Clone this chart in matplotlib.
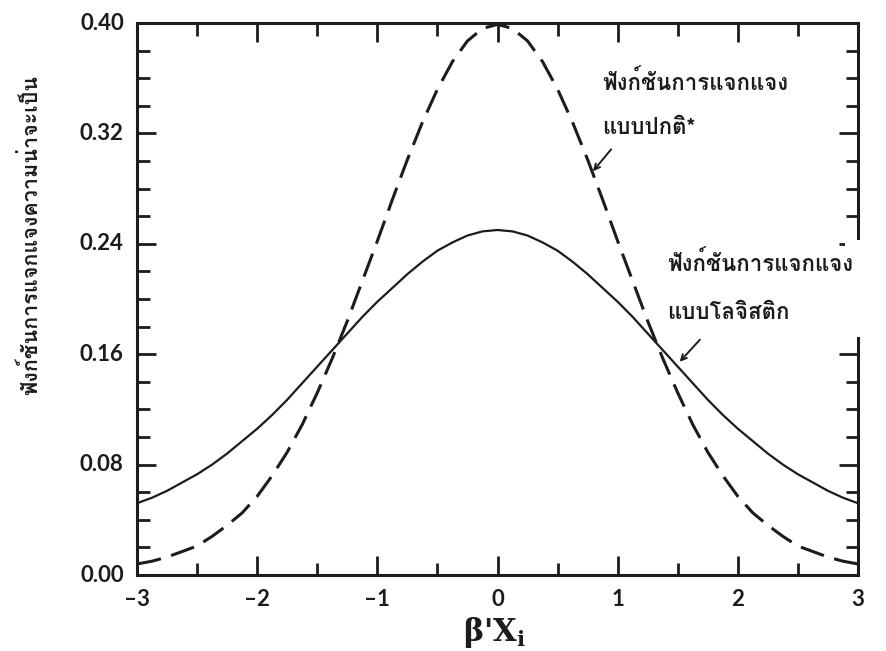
import matplotlib
matplotlib.use("Agg")
import matplotlib.pyplot as plt
from matplotlib import font_manager
from matplotlib.ft2font import FT2Font
from matplotlib.patches import Rectangle
from matplotlib.ticker import MultipleLocator

# values (x step 0.125)
x = [-3.0, -2.875, -2.75, -2.625, -2.5, -2.375, -2.25, -2.125, -2.0, -1.875, -1.75, -1.625,
     -1.5, -1.375, -1.25, -1.125, -1.0, -0.875, -0.75, -0.625, -0.5, -0.375, -0.25, -0.125,
     0.0,
     0.125, 0.25, 0.375, 0.5, 0.625, 0.75, 0.875, 1.0, 1.125, 1.25, 1.375, 1.5,
     1.625, 1.75, 1.875, 2.0, 2.125, 2.25, 2.375, 2.5, 2.625, 2.75, 2.875, 3.0]
normal_pdf = [0.008, 0.010, 0.013, 0.017, 0.021, 0.028, 0.036, 0.045, 0.057, 0.072, 0.089, 0.109,
              0.132, 0.157, 0.184, 0.213, 0.242, 0.272, 0.301, 0.328, 0.352, 0.372, 0.387, 0.396,
              0.399,
              0.396, 0.387, 0.372, 0.352, 0.328, 0.301, 0.272, 0.242, 0.213, 0.184, 0.157, 0.132,
              0.109, 0.089, 0.072, 0.057, 0.045, 0.036, 0.028, 0.021, 0.017, 0.013, 0.010, 0.008]
logistic_pdf = [0.052, 0.056, 0.061, 0.067, 0.073, 0.080, 0.088, 0.097, 0.106, 0.116, 0.127, 0.139,
                0.151, 0.163, 0.175, 0.187, 0.198, 0.208, 0.218, 0.227, 0.235, 0.241, 0.246, 0.249,
                0.250,
                0.249, 0.246, 0.241, 0.235, 0.227, 0.218, 0.208, 0.198, 0.187, 0.175, 0.163, 0.151,
                0.139, 0.127, 0.116, 0.106, 0.097, 0.088, 0.080, 0.073, 0.067, 0.061, 0.056, 0.052]

x_ticks = [-3, -2, -1, 0, 1, 2, 3]
y_ticks = [0.0, 0.08, 0.16, 0.24, 0.32, 0.40]
y_label = "ฟังก์ชันการแจกแจงความน่าจะเป็น"
normal_label = ["ฟังก์ชันการแจกแจง", "แบบปกติ*"]
logistic_label = ["ฟังก์ชันการแจกแจง", "แบบโลจิสติก"]

# find an installed font that has Thai glyphs
thai_family = "DejaVu Sans"
for f in font_manager.fontManager.ttflist:
    try:
        cmap = FT2Font(f.fname).get_charmap()
    except Exception:
        continue
    if 0x0E1F in cmap and 0x0E01 in cmap:
        thai_family = f.name
        break
thai_fonts = [thai_family, "DejaVu Sans"]

plt.rcParams["mathtext.fontset"] = "dejavuserif"
ink = "#1c1c1c"
W, H = 886, 651

fig = plt.figure(figsize=(8.86, 6.51), dpi=100)
ax = fig.add_axes([137 / W, 76 / H, 721 / W, 552 / H])

ax.plot(x, logistic_pdf, color=ink, lw=1.6)
ax.plot(x, normal_pdf, color=ink, lw=2.2, dashes=(8, 3.5))

ax.set_xlim(-3, 3)
ax.set_ylim(0, 0.40)
ax.xaxis.set_major_locator(MultipleLocator(1))
ax.xaxis.set_minor_locator(MultipleLocator(0.5))
ax.yaxis.set_major_locator(MultipleLocator(0.08))
ax.yaxis.set_minor_locator(MultipleLocator(0.02))
ax.tick_params(which="both", direction="in", top=True, right=True, width=2, color=ink)
ax.tick_params(which="major", length=14)
ax.tick_params(which="minor", length=9)
for s in ax.spines.values():
    s.set_linewidth(2.2)
    s.set_color(ink)

ax.set_xticklabels([])
ax.set_yticklabels([])
for v in x_ticks:
    ax.text(v, -0.010, "\u2013%d" % -v if v < 0 else "%d" % v, ha="center", va="top",
            fontsize=16, fontweight="bold", family="Lato", color=ink)
for v in y_ticks:
    ax.text(-3.11, v, "%.2f" % v, ha="right", va="center",
            fontsize=16, fontweight="bold", family="Lato", color=ink)

fig.text(30 / W, 1 - 235 / H, y_label, rotation=90, ha="center", va="center",
         fontsize=15.5, fontweight="bold", family=thai_fonts, color=ink)

fig.text(495 / W, 1 - 633 / H, "β'X$_\\mathbf{i}$", ha="center", va="center",
         fontsize=22, fontweight="bold", family="DejaVu Serif", color=ink)

# white patch where the lower label breaks the right spine
fig.patches.append(Rectangle((845 / W, 1 - 337 / H), 25 / W, 97 / H,
                             transform=fig.transFigure, fc="white", ec="none", zorder=2))

for line, (px, py) in zip(normal_label, [(602, 82), (602, 128)]):
    fig.text(px / W, 1 - py / H, line, ha="left", va="center", fontsize=16,
             fontweight="bold", family=thai_fonts, color=ink, zorder=3)
for line, (px, py) in zip(logistic_label, [(667, 263), (667, 313)]):
    fig.text(px / W, 1 - py / H, line, ha="left", va="center", fontsize=16,
             fontweight="bold", family=thai_fonts, color=ink, zorder=3)

ax.annotate("", xy=(0.78, 0.291), xytext=(0.96, 0.310),
            arrowprops=dict(arrowstyle="->", lw=1.4, color=ink))
ax.annotate("", xy=(1.50, 0.153), xytext=(1.70, 0.172),
            arrowprops=dict(arrowstyle="->", lw=1.4, color=ink))

fig.savefig("out.png", dpi=100)
